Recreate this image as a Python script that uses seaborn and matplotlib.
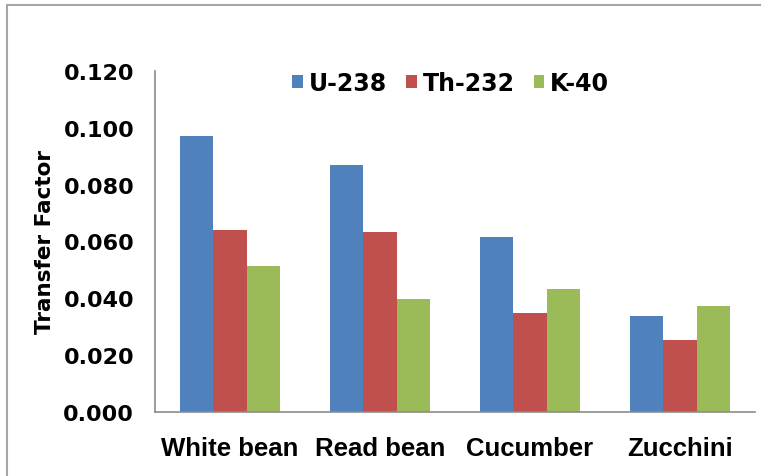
import numpy as np
import pandas as pd
import seaborn as sns
import matplotlib.pyplot as plt
from matplotlib.patches import Rectangle, Patch

crops = ['White bean', 'Read bean', 'Cucumber', 'Zucchini']
nuclides = ['U-238', 'Th-232', 'K-40']
u238 = [0.097, 0.087, 0.0615, 0.0338]
th232 = [0.064, 0.0633, 0.0348, 0.0254]
k40 = [0.0514, 0.0399, 0.0432, 0.0373]
colors = ['#4F81BD', '#C0504D', '#9BBB59']

df = pd.DataFrame({
    'crop': crops * 3,
    'nuclide': [n for n in nuclides for _ in crops],
    'tf': u238 + th232 + k40,
})

sns.set_style('white')
plt.rcParams['font.family'] = ['DejaVu Sans']
plt.rcParams['text.color'] = 'black'
plt.rcParams['xtick.color'] = 'black'
plt.rcParams['ytick.color'] = 'black'
plt.rcParams['axes.labelcolor'] = 'black'

fig = plt.figure(figsize=(7.61, 4.77), dpi=100)
ax = fig.add_axes([155 / 761, 64 / 477, 600 / 761, 341 / 477])

sns.barplot(data=df, x='crop', y='tf', hue='nuclide', order=crops, hue_order=nuclides,
            palette=colors, width=0.667, saturation=1, linewidth=0, ax=ax, legend=False)

ax.set_xlim(-0.5, 3.5)
ax.set_ylim(0, 0.12)
ax.set_yticks(np.arange(0, 0.121, 0.02))
ax.set_yticklabels(['{:.3f}'.format(v) for v in np.arange(0, 0.121, 0.02)],
                   fontsize=16, fontweight='bold')
ax.set_xticks(range(len(crops)))
ax.set_xticklabels(crops, fontsize=18.5, fontweight='bold', family='Liberation Sans')
ax.tick_params(axis='y', length=0, pad=15)
ax.tick_params(axis='x', length=0, pad=17)
ax.set_xlabel('')
ax.set_ylabel('Transfer Factor', fontsize=15.5, fontweight='bold', labelpad=6)

for side in ['top', 'right']:
    ax.spines[side].set_visible(False)
for side in ['left', 'bottom']:
    ax.spines[side].set_color('#8c8c8c')
    ax.spines[side].set_linewidth(1.2)

handles = [Patch(facecolor=c, edgecolor='none') for c in colors]
leg = ax.legend(handles, nuclides, loc='center', bbox_to_anchor=(0.493, 0.965), ncol=3,
                frameon=False, handlelength=0.45, handleheight=0.45, handletextpad=0.25,
                columnspacing=0.8, prop={'weight': 'bold', 'size': 17})

# chart-area border like the original
fig.patches.append(Rectangle((7 / 761, -0.1), 1.2, (477 - 6) / 477 + 0.1,
                             transform=fig.transFigure, fill=False,
                             edgecolor='#a6a6a6', linewidth=1.5))

plt.savefig('out.png', dpi=100)
